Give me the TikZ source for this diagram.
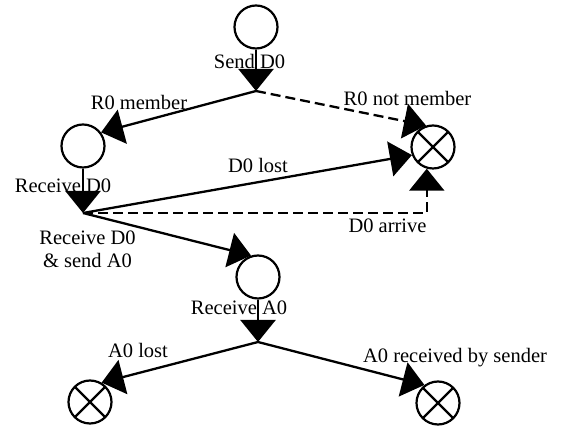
\documentclass[tikz,border=0pt]{standalone}
\usepackage{fontspec}
\setmainfont{Liberation Serif}
\usetikzlibrary{arrows.meta}
\begin{document}
\begin{tikzpicture}[x=1pt,y=1pt,
  state/.style={circle,draw,line width=2.2pt,minimum size=43pt,inner sep=0pt},
  endstate/.style={state,path picture={\draw[line width=2.2pt] (path picture bounding box.north west) -- (path picture bounding box.south east) (path picture bounding box.north east) -- (path picture bounding box.south west);}},
  lbl/.style={font=\fontsize{20.5}{23.5}\selectfont,inner sep=0pt,anchor=base},
  flow/.style={line width=2.3pt,-{Triangle[length=22pt,width=35pt]}},
  alt/.style={flow,dash pattern=on 10pt off 5pt}
]
\useasboundingbox (0,0) rectangle (562,430);
% states
\node[state] (c1) at (256,403) {};
\node[state] (c2) at (83,284) {};
\node[state] (c3) at (258,153) {};
\node[endstate] (x1) at (433,283) {};
\node[endstate] (x2) at (90,28) {};
\node[endstate] (x3) at (438,27) {};
% junctions
\coordinate (j1) at (256,339);
\coordinate (j2) at (83,217);
\coordinate (j3) at (258,88);
% connectors
\draw[flow] (c1) -- (j1);
\draw[flow] (j1) -- (c2.37);
\draw[alt] (j1) -- (x1.108);
\draw[flow] (c2) -- (j2);
\draw[flow] (j2) -- (x1.201);
\draw[alt] (j2) -- (j2 -| x1.254) -- (x1.254);
\draw[flow] (j2) -- (c3.108);
\draw[flow] (c3) -- (j3);
\draw[flow] (j3) -- (x2.59);
\draw[flow] (j3) -- (x3.127);
% labels
\node[lbl] (l1) at (249.5,361) {Send D0};
\node[lbl] (l2) at (139,320) {R0 member};
\node[lbl] (l3) at (407.5,324) {R0 not member};
\node[lbl] (l4) at (63,237) {Receive D0};
\node[lbl] (l5) at (258,257) {D0 lost};
\node[lbl] (l6) at (387.5,197) {D0 arrive};
\node[lbl,align=center] (l7) at (87.5,162) {Receive D0\\ \& send A0};
\node[lbl] (l8) at (239,115) {Receive A0};
\node[lbl] (l9) at (138,72) {A0 lost};
\node[lbl] (l10) at (455,67) {A0 received by sender};
\end{tikzpicture}
\end{document}
